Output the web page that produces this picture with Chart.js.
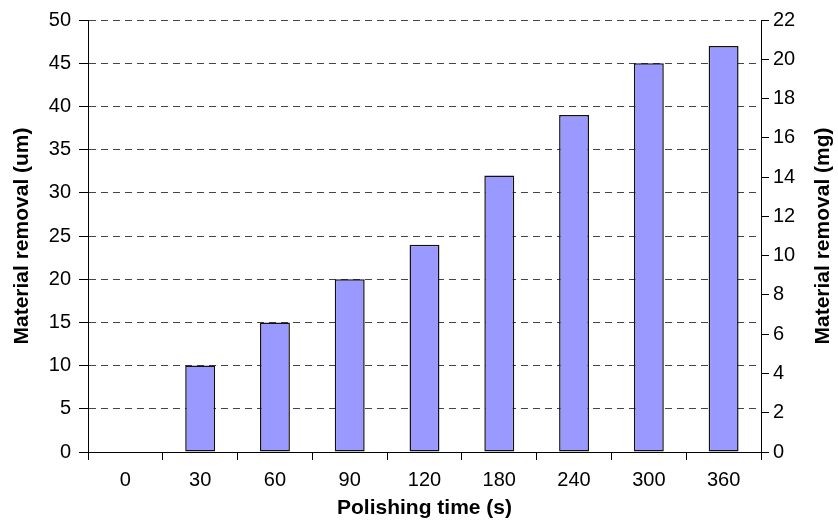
<!DOCTYPE html>
<html>
<head>
<meta charset="utf-8">
<script src="https://cdn.jsdelivr.net/npm/chart.js@4"></script>
<style>
  html, body { margin: 0; padding: 0; background: #fff; }
  #wrap { width: 838px; height: 522px; }
</style>
</head>
<body>
<div id="wrap"><canvas id="myChart" width="838" height="522"></canvas></div>
<script>
const times = ["0", "30", "60", "90", "120", "180", "240", "300", "360"];
const removal = [0, 10, 15, 20, 24, 32, 39, 45, 47];
const leftTitle = "Material removal (um)";
const rightTitle = "Material removal (mg)";
const bottomTitle = "Polishing time (s)";

const FONT = "'Liberation Sans', Arial, sans-serif";

// right title reads bottom-to-top, chart.js would rotate it the other way
const rightTitlePlugin = {
  id: "rightTitle",
  afterDraw(chart) {
    const ctx = chart.ctx;
    const area = chart.chartArea;
    ctx.save();
    ctx.translate(823, (area.top + area.bottom) / 2);
    ctx.rotate(-Math.PI / 2);
    ctx.font = "bold 21px " + FONT;
    ctx.fillStyle = "#000";
    ctx.textAlign = "center";
    ctx.textBaseline = "middle";
    ctx.fillText(rightTitle, 0, 0);
    ctx.restore();
  },
};

const chartElement = document.getElementById("myChart");
const myChart = new Chart(chartElement, {
  type: "bar",
  data: {
    labels: times,
    datasets: [
      {
        data: removal,
        backgroundColor: "#9999FF",
        borderColor: "#111",
        borderWidth: 1.5,
        borderSkipped: false,
        categoryPercentage: 1,
        barPercentage: 0.4,
      },
    ],
  },
  options: {
    responsive: false,
    animation: false,
    layout: { padding: { top: 20, left: 0, right: 0, bottom: 0 } },
    plugins: {
      legend: { display: false },
      tooltip: { enabled: false },
    },
    scales: {
      x: {
        afterFit: (s) => { s.height = 70; },
        grid: {
          offset: true,
          drawOnChartArea: false,
          tickLength: 8,
          color: "#000",
        },
        border: { color: "#000", width: 1 },
        ticks: { color: "#000", font: { family: FONT, size: 20 }, padding: 8 },
        title: {
          display: true,
          text: bottomTitle,
          color: "#000",
          font: { family: FONT, size: 21, weight: "bold" },
          padding: { top: 0, bottom: 1 },
        },
      },
      y: {
        position: "left",
        min: 0,
        max: 50,
        afterFit: (s) => { s.width = 88; },
        grid: {
          color: "#444",
          tickColor: "#000",
          tickLength: 9,
        },
        border: { color: "#000", width: 1, dash: [7, 5] },
        ticks: { stepSize: 5, color: "#000", font: { family: FONT, size: 20 }, padding: 8 },
        title: {
          display: true,
          text: leftTitle,
          color: "#000",
          font: { family: FONT, size: 21, weight: "bold" },
          padding: { top: 10, bottom: 0 },
        },
      },
      y2: {
        position: "right",
        min: 0,
        max: 22,
        afterFit: (s) => { s.width = 77; },
        grid: {
          drawOnChartArea: false,
          tickLength: 8,
          color: "#000",
        },
        border: { color: "#000", width: 1 },
        ticks: { stepSize: 2, color: "#000", font: { family: FONT, size: 20 }, padding: 4 },
      },
    },
  },
  plugins: [rightTitlePlugin],
});
</script>
</body>
</html>
